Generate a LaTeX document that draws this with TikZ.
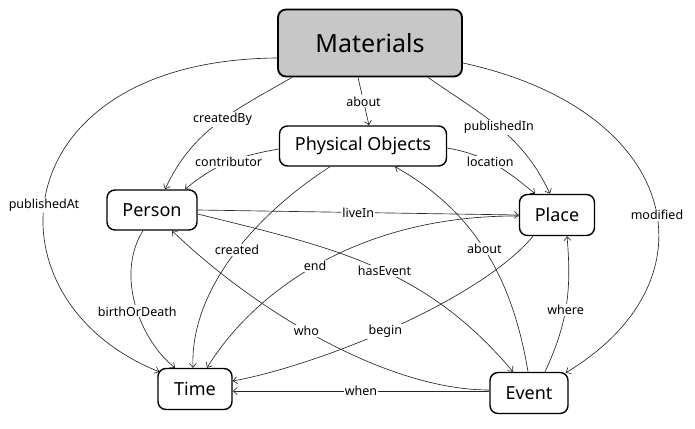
\documentclass[tikz,border=0pt]{standalone}
\usepackage{fontspec}
\setmainfont{Noto Sans}
\usetikzlibrary{arrows.meta}
\begin{document}
\begin{tikzpicture}[x=1pt,y=1pt,
  box/.style={draw=black, line width=1.4pt, rounded corners=8pt, fill=white, font=\fontsize{18}{20}\selectfont, inner sep=0pt},
  edge/.style={draw=black!85, line width=0.65pt, -{Straight Barb[length=4pt,width=7pt]}},
  lbl/.style={fill=white, inner sep=1.2pt, font=\fontsize{12.5}{14}\selectfont, text=black}]
\useasboundingbox (0,0) rectangle (695,-428);
\node[box, fill=black!22, line width=1.8pt, minimum width=184pt, minimum height=67pt, font=\fontsize{25}{28}\selectfont] (M) at (370,-43) {Materials};
\node[box, minimum width=167pt, minimum height=40pt] (PO) at (363,-146) {Physical Objects};
\node[box, minimum width=90pt, minimum height=40pt] (P) at (152,-210) {Person};
\node[box, minimum width=75pt, minimum height=41pt] (PL) at (557,-215) {Place};
\node[box, minimum width=74pt, minimum height=41pt] (T) at (195,-389) {Time};
\node[box, minimum width=78pt, minimum height=41pt] (E) at (529,-393) {Event};

\draw[edge] ([xshift=-12pt]M.south) -- node[lbl,pos=0.5]{about} ([xshift=6pt]PO.north);
\draw[edge] ([xshift=-78pt]M.south) to[out=210,in=65] node[lbl,pos=0.46]{createdBy} ([xshift=13pt]P.north);
\draw[edge] ([yshift=-3pt]PO.west) to[out=190,in=40] node[lbl,pos=0.5]{contributor} ([xshift=33pt]P.north);
\draw[edge] ([xshift=58pt]M.south) to[out=-35,in=115] node[lbl,pos=0.5]{publishedIn} ([xshift=-7pt]PL.north);
\draw[edge] ([yshift=-2pt]PO.east) to[out=-10,in=140] node[lbl,pos=0.45]{location} ([xshift=-22pt]PL.north);
\draw[edge] ([yshift=-15pt]M.west) .. controls (0,-60) and (-20,-300) .. node[lbl,pos=0.54]{publishedAt} ([xshift=2pt,yshift=-4pt]T.north west);
\draw[edge] ([yshift=-20pt]M.east) .. controls (680,-110) and (720,-280) .. node[lbl,pos=0.54]{modified} ([xshift=-3pt,yshift=-1pt]E.north east);
\draw[edge] (P.east) -- node[lbl,pos=0.5]{liveIn} (PL.west);
\draw[edge] ([xshift=-33pt]PO.south) .. controls (255,-215) and (190,-290) .. node[lbl,pos=0.47]{created} ([xshift=-2pt]T.north);
\draw[edge] ([yshift=-1pt]PL.west) .. controls (360,-215) and (255,-290) .. node[lbl,pos=0.52]{end} ([xshift=12pt]T.north);
\draw[edge] ([yshift=-4pt]P.east) to[out=-14,in=130] node[lbl,pos=0.54]{hasEvent} ([xshift=-16pt]E.north);
\draw[edge] ([xshift=-9pt]P.south) .. controls (115,-275) and (140,-340) .. node[lbl,pos=0.54]{birthOrDeath} ([xshift=-20pt]T.north);
\draw[edge] ([yshift=3pt]E.west) .. controls (390,-390) and (260,-315) .. node[lbl,pos=0.56]{who} ([xshift=20pt]P.south);
\draw[edge] ([xshift=-24pt]PL.south) .. controls (480,-300) and (320,-365) .. node[lbl,pos=0.53]{begin} ([yshift=8pt]T.east);
\draw[edge] ([xshift=-1pt]E.north) .. controls (512,-275) and (472,-210) .. node[lbl,pos=0.5]{about} ([xshift=32pt]PO.south);
\draw[edge] ([xshift=16pt]E.north) to[out=65,in=-85] node[lbl,pos=0.47]{where} ([xshift=10pt]PL.south);
\draw[edge] ([yshift=2pt]E.west) -- node[lbl,pos=0.5]{when} ([yshift=-2pt]T.east);
\end{tikzpicture}
\end{document}
